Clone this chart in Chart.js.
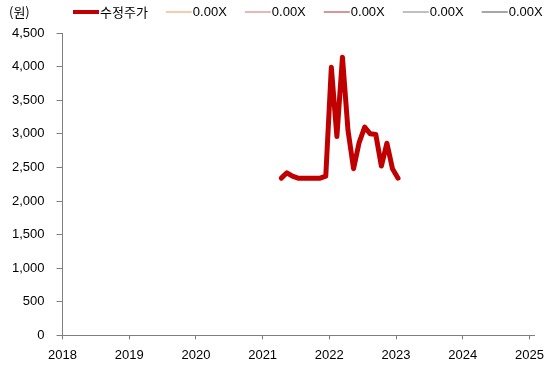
<!DOCTYPE html>
<html>
<head>
<meta charset="utf-8">
<script src="https://cdn.jsdelivr.net/npm/chart.js@4"></script>
<style>
html,body{margin:0;padding:0;background:#fff;}
#wrap{width:552px;height:367px;}
</style>
</head>
<body>
<div id="wrap"><canvas id="c" width="552" height="367"></canvas></div>
<script>
// ---- data ----
const months = ['2021-04','2021-05','2021-06','2021-07','2021-08','2021-09','2021-10','2021-11','2021-12',
  '2022-01','2022-02','2022-03','2022-04','2022-05','2022-06','2022-07','2022-08','2022-09','2022-10','2022-11','2022-12',
  '2023-01'];
const adjPrice = [2340,2420,2370,2340,2340,2340,2340,2340,2370,
  3990,2960,4140,3050,2480,2870,3100,3000,2990,2520,2860,2480,
  2340];
const seriesNames = ['수정주가','0.00X','0.00X','0.00X','0.00X','0.00X'];
const seriesColors = ['#C00000','#F8CBAD','#E6B9B8','#D99694','#BFBFBF','#A6A6A6'];
const yearTicks = [2018,2019,2020,2021,2022,2023,2024,2025];
const valueTicks = [0,500,1000,1500,2000,2500,3000,3500,4000,4500];
const unitLabel = '(원)';

function toYear(m){ const [y,mo]=m.split('-').map(Number); return y + (mo-1)/12 + 0.03; }

const datasets = seriesNames.map((name,i)=>({
  label: name,
  data: i===0 ? months.map((m,k)=>({x: toYear(m), y: adjPrice[k]})) : [],
  borderColor: seriesColors[i],
  backgroundColor: seriesColors[i],
  borderWidth: i===0 ? 5 : 2,
  pointRadius: 0,
  tension: 0,
  borderJoinStyle: 'round',
  borderCapStyle: 'round'
}));

const FONT = '"Liberation Sans", Arial, sans-serif';
const KFONT = '"Noto Sans CJK KR", "Liberation Sans", sans-serif';

const legendPlugin = {
  id: 'customLegend',
  afterDraw(chart){
    const ctx = chart.ctx;
    ctx.save();
    ctx.textBaseline = 'middle';
    ctx.fillStyle = '#000';
    ctx.font = '13px ' + KFONT;
    ctx.fillText(unitLabel, 9, 12);
    let x = 73;
    const y = 12;
    chart.data.datasets.forEach((ds,i)=>{
      ctx.strokeStyle = ds.borderColor;
      ctx.lineWidth = i===0 ? 4 : 2;
      ctx.lineCap = 'butt';
      ctx.beginPath(); ctx.moveTo(x, y); ctx.lineTo(x+26, y); ctx.stroke();
      x += 27;
      ctx.font = '13px ' + (i===0 ? KFONT : FONT);
      ctx.fillStyle = '#000';
      ctx.fillText(ds.label, x, y);
      x += ctx.measureText(ds.label).width + 18;
    });
    ctx.restore();
  }
};

new Chart(document.getElementById('c'), {
  type: 'line',
  data: { datasets },
  options: {
    responsive: false,
    devicePixelRatio: 1,
    animation: false,
    layout: { padding: { top: 33, right: 10, bottom: -4, left: 0 } },
    plugins: { legend: { display: false }, tooltip: { enabled: false } },
    scales: {
      x: {
        type: 'linear',
        min: 2018, max: 2025.075,
        afterBuildTicks: s => { s.ticks = yearTicks.map(v=>({value:v})); },
        ticks: { callback: v => String(v), color: '#000', font: { family: FONT, size: 13 }, padding: 8, maxRotation: 0, autoSkip: false },
        grid: { display: true, drawOnChartArea: false, drawTicks: true, tickLength: 4, color: '#7f7f7f' },
        border: { display: true, color: '#7f7f7f', width: 1 }
      },
      y: {
        type: 'linear',
        min: 0, max: 4500,
        afterBuildTicks: s => { s.ticks = valueTicks.map(v=>({value:v})); },
        ticks: { callback: v => v.toLocaleString('en-US'), color: '#000', font: { family: FONT, size: 13 }, padding: 12, autoSkip: false },
        grid: { display: true, drawOnChartArea: false, drawTicks: true, tickLength: 6, color: '#7f7f7f' },
        border: { display: true, color: '#7f7f7f', width: 1 }
      }
    }
  },
  plugins: [legendPlugin]
});
</script>
</body>
</html>
